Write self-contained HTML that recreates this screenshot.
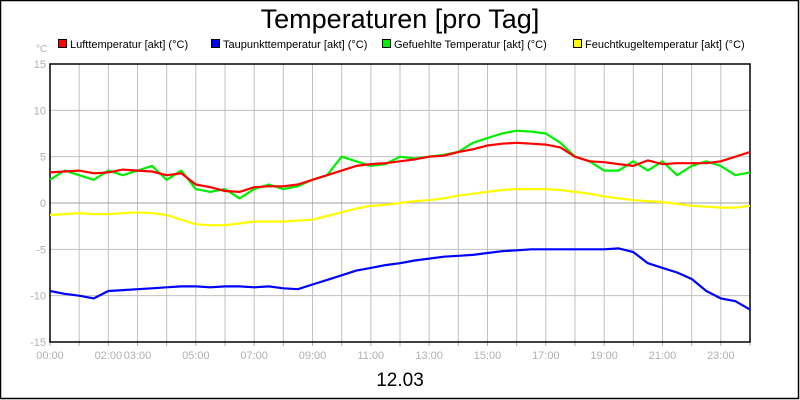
<!DOCTYPE html>
<html><head><meta charset="utf-8"><style>
html,body{margin:0;padding:0;background:#fff}
svg{display:block;font-family:"Liberation Sans",sans-serif}
</style></head><body>
<svg id="chart" width="800" height="400" viewBox="0 0 800 400" xmlns="http://www.w3.org/2000/svg">
<rect x="0.5" y="0.5" width="798" height="398" fill="#fff" stroke="#000" stroke-width="1.5"/>
<text x="400" y="28" text-anchor="middle" font-size="27">Temperaturen [pro Tag]</text>
<text x="400" y="386" text-anchor="middle" font-size="19">12.03</text>
<text x="36" y="52" font-size="10" fill="#b0b0b0">°C</text>
<g id="legend" font-size="11"></g>
<g id="grid"></g>
<g id="axes"></g>
<g id="series"></g>
</svg>
<script>
const hourLabels = ["00:00","","02:00","03:00","","05:00","","07:00","","09:00","","11:00","","13:00","","15:00","","17:00","","19:00","","21:00","","23:00",""];
const yTicks = [-15,-10,-5,0,5,10,15];
const seriesNames = ["Lufttemperatur [akt] (°C)","Taupunkttemperatur [akt] (°C)","Gefuehlte Temperatur [akt] (°C)","Feuchtkugeltemperatur [akt] (°C)"];
// values every 30 min, 00:00 .. 24:00
const luft = [3.3,3.4,3.5,3.2,3.3,3.6,3.5,3.4,3.0,3.2,2.0,1.7,1.3,1.2,1.7,1.8,1.8,2.0,2.5,3.0,3.5,4.0,4.2,4.3,4.5,4.7,5.0,5.1,5.5,5.8,6.2,6.4,6.5,6.4,6.3,6.0,5.0,4.5,4.4,4.2,4.0,4.6,4.2,4.3,4.3,4.3,4.5,5.0,5.5];
const tau = [-9.5,-9.8,-10.0,-10.3,-9.5,-9.4,-9.3,-9.2,-9.1,-9.0,-9.0,-9.1,-9.0,-9.0,-9.1,-9.0,-9.2,-9.3,-8.8,-8.3,-7.8,-7.3,-7.0,-6.7,-6.5,-6.2,-6.0,-5.8,-5.7,-5.6,-5.4,-5.2,-5.1,-5.0,-5.0,-5.0,-5.0,-5.0,-5.0,-4.9,-5.3,-6.5,-7.0,-7.5,-8.2,-9.5,-10.3,-10.6,-11.5];
const gefuehlt = [2.5,3.5,3.0,2.5,3.5,3.0,3.5,4.0,2.5,3.5,1.5,1.2,1.5,0.5,1.5,2.0,1.5,1.8,2.5,3.0,5.0,4.5,4.0,4.2,5.0,4.8,5.0,5.2,5.5,6.5,7.0,7.5,7.8,7.7,7.5,6.5,5.0,4.5,3.5,3.5,4.5,3.5,4.5,3.0,4.0,4.5,4.0,3.0,3.3];
const feucht = [-1.3,-1.2,-1.1,-1.2,-1.2,-1.1,-1.0,-1.1,-1.3,-1.8,-2.3,-2.4,-2.4,-2.2,-2.0,-2.0,-2.0,-1.9,-1.8,-1.4,-1.0,-0.6,-0.3,-0.2,0.0,0.2,0.3,0.5,0.8,1.0,1.2,1.4,1.5,1.5,1.5,1.4,1.2,1.0,0.7,0.5,0.3,0.2,0.1,-0.1,-0.3,-0.4,-0.5,-0.5,-0.3];
const NS="http://www.w3.org/2000/svg";
const X0=50,X1=750,Y0=342,Y1=64,ymin=-15,ymax=15;
const xs=h=>X0+h/24*(X1-X0);
const ys=v=>Y0-(v-ymin)/(ymax-ymin)*(Y0-Y1);
function mk(tag,attrs,parent){const e=document.createElementNS(NS,tag);for(const k in attrs)e.setAttribute(k,attrs[k]);parent.appendChild(e);return e;}
const grid=document.getElementById('grid'),axes=document.getElementById('axes'),ser=document.getElementById('series'),leg=document.getElementById('legend');
for(let h=1;h<24;h++){const l=mk('line',{x1:xs(h),x2:xs(h),y1:Y1,y2:Y0,stroke:'#c0c0c0'},grid);

}
yTicks.forEach(v=>{if(v>ymin&&v<ymax){const l=mk('line',{x1:X0,x2:X1,y1:ys(v),y2:ys(v),stroke:v===0?'#a0a0a0':'#c0c0c0'},grid);

}
const t=mk('text',{x:X0-4,y:ys(v)+4,'text-anchor':'end','font-size':11,fill:'#b0b0b0'},axes);t.textContent=v;

});
hourLabels.forEach((s,h)=>{const tk=mk('line',{x1:xs(h),x2:xs(h),y1:Y0,y2:Y0+4,stroke:'#b0b0b0'},axes);


if(s){const t=mk('text',{x:xs(h),y:Y0+17,'text-anchor':'middle','font-size':11,fill:'#b0b0b0'},axes);t.textContent=s;

}});
const frame=mk('rect',{x:X0,y:Y1,width:X1-X0,height:Y0-Y1,fill:'none',stroke:'#000','stroke-width':1.5},axes);


const cols=['#ff0000','#0000ff','#00ee00','#ffff00'];
const data=[feucht,tau,gefuehlt,luft],dcols=[cols[3],cols[1],cols[2],cols[0]],dnames=['feucht-line','taupunkt-line','gefuehlt-line','luft-line'];
data.forEach((arr,i)=>{const step=24/(arr.length-1);const p=mk('polyline',{points:arr.map((v,j)=>xs(j*step).toFixed(1)+','+ys(v).toFixed(1)).join(' '),fill:'none',stroke:dcols[i],'stroke-width':2.2,'stroke-linejoin':'round'},ser);

});
const lx=[58,211,382,573];
seriesNames.forEach((n,i)=>{const r=mk('rect',{x:lx[i]+0.5,y:39.5,width:8,height:8,fill:cols[i],stroke:'#000'},leg);


const t=mk('text',{x:lx[i]+12,y:48},leg);t.textContent=n;

});
</script>
</body></html>
